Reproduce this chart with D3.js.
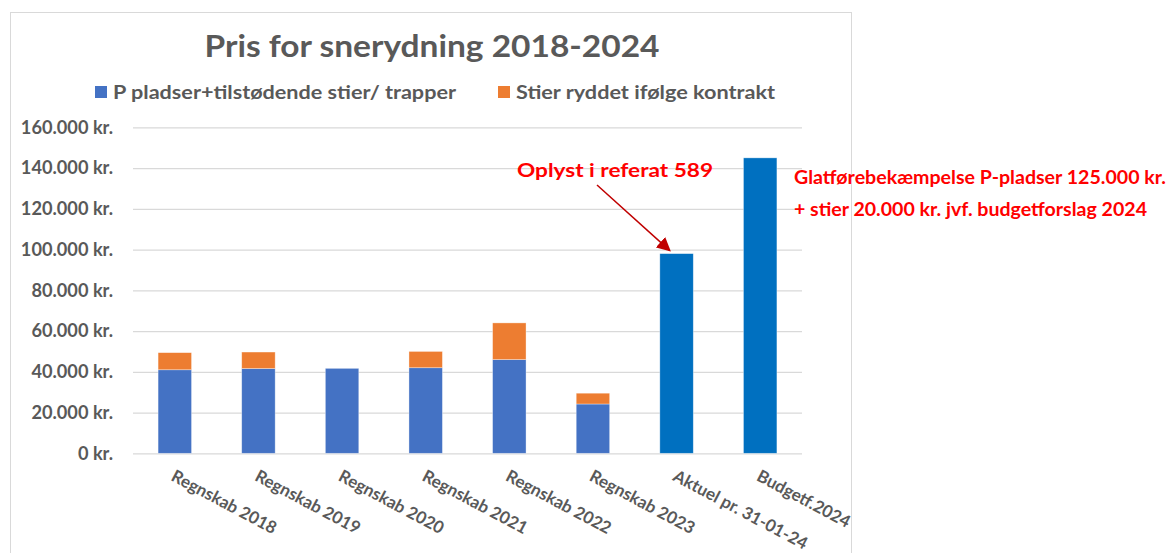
<!DOCTYPE html>
<html>
<head>
<meta charset="utf-8">
<script src="https://cdn.jsdelivr.net/npm/d3@7"></script>
<style>
  body { margin: 0; background: #fff; }
  text { font-family: Lato, "Open Sans", sans-serif; font-weight: bold; }
</style>
</head>
<body>
<div id="chart"></div>
<script>
// categories and values (kr.)
var categories = ["Regnskab 2018", "Regnskab 2019", "Regnskab 2020", "Regnskab 2021",
    "Regnskab 2022", "Regnskab 2023", "Aktuel pr. 31-01-24", "Budgetf.2024"];
var pladser = [41000, 41600, 41700, 42000, 46000, 24200, 98000, 145000];
var stier = [8400, 8100, 0, 8000, 18000, 5300, 0, 0];
var seriesNames = ["P pladser+tilstødende stier/ trapper", "Stier ryddet ifølge kontrakt"];
var yTicks = [0, 20000, 40000, 60000, 80000, 100000, 120000, 140000, 160000];
var noteLabel = "Oplyst i referat 589";
var budgetNote = ["Glatførebekæmpelse P-pladser 125.000 kr.", "+ stier 20.000 kr. jvf. budgetforslag 2024"];

var width = 1168, height = 553;
var margin = {top: 127.3, left: 133, right: 366, bottom: 99.7};

var svg = d3.select("#chart").append("svg")
    .attr("width", width)
    .attr("height", height);

// chart frame
svg.append("rect")
    .attr("x", 10.5).attr("y", 12.5)
    .attr("width", 841).attr("height", 560)
    .attr("fill", "none")
    .attr("stroke", "#d9d9d9");

var x = d3.scaleBand()
    .domain(categories)
    .range([margin.left, width - margin.right])
    .paddingInner(0.6)
    .paddingOuter(0.3);

var y = d3.scaleLinear()
    .domain([0, 160000])
    .range([height - margin.bottom, margin.top]);

var fmt = function(d) {
    return d === 0 ? "0 kr." : d3.format(",")(d).replace(/,/g, ".") + " kr.";
};

// gridlines + y labels
var yAxis = d3.axisLeft(y)
    .tickValues(yTicks)
    .tickFormat(fmt)
    .tickSize(-(width - margin.right - margin.left))
    .tickPadding(20);

var gy = svg.append("g")
    .attr("transform", "translate(" + margin.left + ",0)")
    .call(yAxis);
gy.select(".domain").remove();
gy.selectAll(".tick line").attr("stroke", "#d9d9d9").attr("stroke-width", 1.3);
gy.selectAll(".tick text")
    .attr("fill", "#595959")
    .style("font-size", "18.2px");

// stacked bars
var stackData = categories.map(function(c, i) {
    return {cat: c, i: i, a: pladser[i], b: stier[i]};
});

svg.append("g").selectAll("rect")
    .data(stackData)
    .enter().append("rect")
    .attr("x", function(d) { return x(d.cat); })
    .attr("width", x.bandwidth())
    .attr("y", function(d) { return y(d.a); })
    .attr("height", function(d) { return y(0) - y(d.a); })
    .attr("fill", function(d) { return d.i >= 6 ? "#0070c0" : "#4472c4"; })
    .attr("stroke", "#ffffff").attr("stroke-opacity", 0.5).attr("stroke-width", 0.7);

svg.append("g").selectAll("rect")
    .data(stackData.filter(function(d) { return d.b > 0; }))
    .enter().append("rect")
    .attr("x", function(d) { return x(d.cat); })
    .attr("width", x.bandwidth())
    .attr("y", function(d) { return y(d.a + d.b); })
    .attr("height", function(d) { return y(d.a) - y(d.a + d.b); })
    .attr("fill", "#ed7d31")
    .attr("stroke", "#ffffff").attr("stroke-opacity", 0.5).attr("stroke-width", 0.7);

// x labels, rotated
svg.append("g").selectAll("text")
    .data(categories)
    .enter().append("text")
    .attr("transform", function(d) {
        return "translate(" + (x(d) + x.bandwidth() / 2 + 2) + "," + 467 + ") rotate(28)";
    })
    .attr("dy", "0.85em")
    .attr("fill", "#595959")
    .style("font-size", "17px")
    .text(function(d) { return d; });

// title
svg.append("text")
    .attr("x", 432).attr("y", 57)
    .attr("text-anchor", "middle")
    .attr("fill", "#595959")
    .style("font-size", "31px")
    .attr("textLength", 455)
    .attr("lengthAdjust", "spacingAndGlyphs")
    .text("Pris for snerydning 2018-2024");

// legend
var legendX = [95, 498];
var legendW = [343, 259];
var colors = ["#4472c4", "#ed7d31"];
var lg = svg.append("g").selectAll("g")
    .data(seriesNames)
    .enter().append("g")
    .attr("transform", function(d, i) { return "translate(" + legendX[i] + ",86)"; });
lg.append("rect")
    .attr("width", 12).attr("height", 12)
    .attr("fill", function(d, i) { return colors[i]; });
lg.append("text")
    .attr("x", 18).attr("y", 13)
    .attr("fill", "#595959")
    .style("font-size", "19px")
    .attr("textLength", function(d, i) { return legendW[i]; })
    .attr("lengthAdjust", "spacingAndGlyphs")
    .text(function(d) { return d; });

// annotation with arrow
svg.append("defs").append("marker")
    .attr("id", "arrow")
    .attr("viewBox", "0 0 10 10")
    .attr("refX", 9).attr("refY", 5)
    .attr("markerWidth", 14).attr("markerHeight", 14)
    .attr("markerUnits", "userSpaceOnUse")
    .attr("orient", "auto")
    .append("path")
    .attr("d", "M0,0 L10,5 L0,10 z")
    .attr("fill", "#c00000");

var target = x(categories[6]);
svg.append("line")
    .attr("x1", 597).attr("y1", 185)
    .attr("x2", target + 10).attr("y2", y(pladser[6]) - 3)
    .attr("stroke", "#c00000")
    .attr("stroke-width", 1.5)
    .attr("marker-end", "url(#arrow)");

svg.append("text")
    .attr("x", 517).attr("y", 177)
    .attr("fill", "#ff0000")
    .style("font-size", "18px")
    .attr("textLength", 196)
    .attr("lengthAdjust", "spacingAndGlyphs")
    .text(noteLabel);

svg.append("g").selectAll("text")
    .data(budgetNote)
    .enter().append("text")
    .attr("x", 794)
    .attr("y", function(d, i) { return 184 + i * 32; })
    .attr("fill", "#ff0000")
    .style("font-size", "18px")
    .attr("textLength", function(d, i) { return i === 0 ? 372 : 353; })
    .attr("lengthAdjust", "spacingAndGlyphs")
    .text(function(d) { return d; });
</script>
</body>
</html>
